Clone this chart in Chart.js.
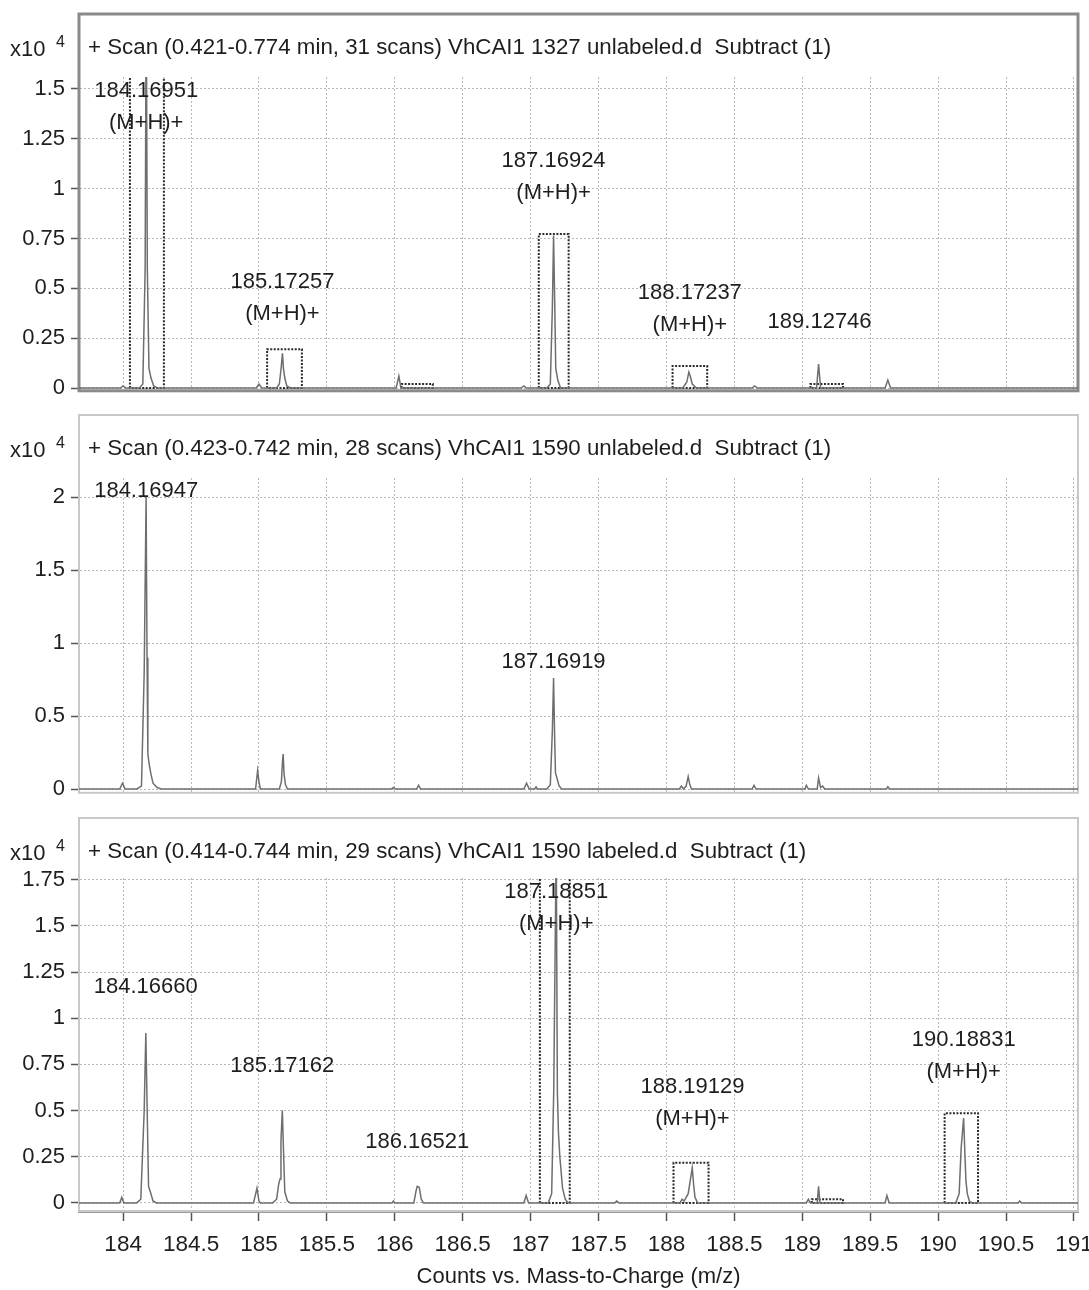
<!DOCTYPE html>
<html>
<head>
<meta charset="utf-8">
<script src="https://cdn.jsdelivr.net/npm/chart.js@4.4.1/dist/chart.umd.min.js"></script>
<style>
    html, body { margin: 0; padding: 0; background: #fff; }
    #wrap { position: relative; width: 1089px; height: 1290px; }
    .panel { position: absolute; left: 0; width: 1089px; }
</style>
</head>
<body>
<div id="wrap">
    <div class="panel" style="top:0;height:410px"><canvas id="scan1"></canvas></div>
    <div class="panel" style="top:410px;height:402px"><canvas id="scan2"></canvas></div>
    <div class="panel" style="top:812px;height:478px"><canvas id="scan3"></canvas></div>
</div>
<script>
// m/z tick labels (every 0.5)
const mzTicks = [184, 184.5, 185, 185.5, 186, 186.5, 187, 187.5, 188, 188.5, 189, 189.5, 190, 190.5, 191];

// scan 1: 1327 unlabeled (counts x10^4)
const scan1Mz = [183.675, 183.98, 184.0, 184.02, 184.12, 184.145, 184.162, 184.17, 184.178, 184.19, 184.205, 184.225, 184.25,
    184.98, 185.0, 185.02, 185.13, 185.15, 185.163, 185.173, 185.18, 185.19, 185.205, 185.23,
    186.01, 186.03, 186.045, 186.93, 186.95, 186.97,
    187.12, 187.145, 187.16, 187.169, 187.178, 187.185, 187.2, 187.22,
    188.12, 188.15, 188.165, 188.175, 188.19, 188.22, 188.63, 188.65, 188.67,
    189.105, 189.12, 189.135, 189.61, 189.63, 189.65, 191.03];
const scan1Counts = [0, 0, 0.01, 0, 0, 0.02, 0.6, 2.0, 0.6, 0.1, 0.05, 0.01, 0,
    0, 0.02, 0, 0, 0.02, 0.1, 0.174, 0.1, 0.05, 0.01, 0,
    0, 0.06, 0, 0, 0.01, 0,
    0, 0.02, 0.4, 0.765, 0.4, 0.1, 0.04, 0,
    0, 0.03, 0.08, 0.06, 0.02, 0, 0, 0.01, 0,
    0, 0.12, 0, 0, 0.04, 0, 0];
const scan1BoxFrom = [184.05, 185.06, 187.06, 188.045, 186.05, 189.06];
const scan1BoxTo = [184.30, 185.316, 187.28, 188.30, 186.28, 189.30];
const scan1BoxTop = [1.7, 0.195, 0.772, 0.11, 0.02, 0.02];
const scan1LabelMz = [184.16951, 185.17257, 187.16924, 188.17237, 189.12746];
const scan1LabelAt = [1.49, 0.533, 1.139, 0.477, 0.333];
const scan1LabelIon = [true, true, true, true, false];

// scan 2: 1590 unlabeled
const scan2Mz = [183.675, 183.975, 183.995, 184.015,
    184.1, 184.135, 184.155, 184.169, 184.176, 184.182, 184.19, 184.205, 184.22, 184.25, 184.28,
    184.975, 184.99, 185.0, 185.01,
    185.15, 185.165, 185.172, 185.178, 185.185, 185.195, 185.21,
    185.975, 185.99, 186.005, 186.16, 186.175, 186.19,
    186.95, 186.97, 186.99, 187.03, 187.04, 187.05,
    187.12, 187.145, 187.16, 187.169, 187.177, 187.183, 187.195, 187.21, 187.23,
    188.095, 188.11, 188.125, 188.145, 188.16, 188.172, 188.185,
    188.63, 188.645, 188.66,
    189.02, 189.03, 189.045, 189.11, 189.12, 189.135, 189.15, 189.165,
    189.62, 189.63, 189.645, 191.03];
const scan2Counts = [0, 0, 0.04, 0,
    0, 0.02, 0.8, 2.0, 0.9, 0.24, 0.18, 0.1, 0.04, 0.01, 0,
    0, 0.125, 0.05, 0,
    0, 0.05, 0.17, 0.24, 0.1, 0.03, 0,
    0, 0.01, 0, 0, 0.025, 0,
    0, 0.04, 0, 0, 0.015, 0,
    0, 0.03, 0.4, 0.76, 0.35, 0.11, 0.07, 0.02, 0,
    0, 0.02, 0, 0.02, 0.085, 0.03, 0,
    0, 0.025, 0,
    0, 0.025, 0, 0, 0.075, 0.01, 0.02, 0,
    0, 0.015, 0, 0];
const scan2LabelMz = [184.16947, 187.16919];
const scan2LabelAt = [2.041, 0.872];
const scan2LabelIon = [false, false];

// scan 3: 1590 labeled
const scan3Mz = [183.675, 183.975, 183.99, 184.005,
    184.1, 184.13, 184.155, 184.167, 184.177, 184.187, 184.2, 184.22, 184.245,
    184.96, 184.985, 185.0, 185.01,
    185.1, 185.13, 185.145, 185.155, 185.162, 185.172, 185.18, 185.19, 185.21, 185.23,
    185.98, 185.99, 186.0,
    186.14, 186.155, 186.165, 186.18, 186.195, 186.21,
    186.95, 186.967, 186.985,
    187.13, 187.155, 187.17, 187.1885, 187.197, 187.205, 187.215, 187.235, 187.255, 187.275,
    187.62, 187.634, 187.65,
    188.1, 188.115, 188.13, 188.16, 188.19, 188.2, 188.21, 188.23,
    189.03, 189.045, 189.06, 189.11, 189.12, 189.13,
    189.61, 189.623, 189.64,
    190.13, 190.155, 190.17, 190.188, 190.198, 190.205, 190.215, 190.23, 190.25,
    190.59, 190.6, 190.615, 191.03];
const scan3Counts = [0, 0, 0.03, 0,
    0, 0.02, 0.5, 0.92, 0.5, 0.09, 0.06, 0.01, 0,
    0, 0.08, 0.01, 0,
    0, 0.02, 0.1, 0.13, 0.34, 0.5, 0.3, 0.06, 0.01, 0,
    0, 0.01, 0,
    0, 0.06, 0.09, 0.085, 0.02, 0,
    0, 0.04, 0,
    0, 0.05, 0.6, 1.95, 0.6, 0.38, 0.25, 0.08, 0.02, 0,
    0, 0.01, 0,
    0, 0.02, 0.01, 0.05, 0.19, 0.1, 0.03, 0,
    0, 0.02, 0, 0, 0.09, 0,
    0, 0.04, 0,
    0, 0.05, 0.3, 0.46, 0.25, 0.12, 0.05, 0.01, 0,
    0, 0.01, 0, 0];
const scan3BoxFrom = [187.068, 188.052, 190.048, 189.07];
const scan3BoxTo = [187.288, 188.31, 190.294, 189.30];
const scan3BoxTop = [2.0, 0.218, 0.486, 0.02];
const scan3LabelMz = [184.1666, 185.17162, 186.16521, 187.18851, 188.19129, 190.18831];
const scan3LabelAt = [1.172, 0.742, 0.332, 1.686, 0.628, 0.883];
const scan3LabelIon = [false, false, false, true, true, true];

const SANS = "'Liberation Sans', Arial, sans-serif";

function points(xs, ys) {
    return xs.map((x, i) => ({ x: x, y: ys[i] }));
}

function boxDatasets(from, to, top) {
    return from.map((x0, i) => ({
        data: [{ x: x0, y: 0 }, { x: x0, y: top[i] }, { x: to[i], y: top[i] }, { x: to[i], y: 0 }, { x: x0, y: 0 }],
        borderColor: '#2b2b2b',
        borderWidth: 2,
        borderDash: [2, 1.5],
        pointRadius: 0,
        tension: 0
    }));
}

function decoPlugin(cfg) {
    return {
        id: 'deco',
        beforeDatasetsDraw(chart) {
            const { ctx, chartArea } = chart;
            ctx.save();
            ctx.strokeStyle = cfg.frameColor;
            ctx.lineWidth = cfg.frameWidth;
            ctx.strokeRect(chartArea.left, cfg.frameTop, chartArea.right - chartArea.left, chartArea.bottom - cfg.frameTop);
            ctx.restore();
        },
        afterDraw(chart) {
            const { ctx, scales } = chart;
            ctx.save();
            ctx.fillStyle = '#1e1e1e';
            ctx.textBaseline = 'middle';
            // multiplier and scan title
            const ty = cfg.frameTop + 34;
            ctx.font = '22px ' + SANS;
            ctx.textAlign = 'left';
            ctx.fillText('x10', 10, ty + 2);
            ctx.font = '16px ' + SANS;
            ctx.fillText('4', 56, ty - 5);
            ctx.font = '22.3px ' + SANS;
            ctx.fillText(cfg.title, 88, ty);
            // peak annotations
            ctx.font = '22px ' + SANS;
            ctx.textAlign = 'center';
            cfg.labelMz.forEach((mz, i) => {
                const x = scales.x.getPixelForValue(mz);
                const y = scales.y.getPixelForValue(cfg.labelAt[i]);
                ctx.fillText(mz.toFixed(5), x, y);
                if (cfg.labelIon[i]) {
                    ctx.fillText('(M+H)+', x, y + 32);
                }
            });
            ctx.restore();
        }
    };
}

function makePanel(id, cfg) {
    const datasets = [{
        data: points(cfg.mz, cfg.counts),
        borderColor: '#6e6e6e',
        borderWidth: 1.5,
        pointRadius: 0,
        tension: 0
    }].concat(cfg.boxes || []);

    return new Chart(document.getElementById(id), {
        type: 'line',
        data: { datasets: datasets },
        options: {
            responsive: true,
            maintainAspectRatio: false,
            animation: false,
            layout: {
                autoPadding: false,
                padding: { top: cfg.padTop, bottom: cfg.padBottom, left: 0, right: 11 }
            },
            plugins: { legend: { display: false }, tooltip: { enabled: false } },
            scales: {
                x: {
                    type: 'linear',
                    min: 183.675,
                    max: 191.03,
                    afterBuildTicks: s => { s.ticks = mzTicks.map(v => ({ value: v })); },
                    afterFit: s => {
                        s.height = cfg.xHeight;
                        s.paddingLeft = 0;
                        s.paddingRight = 0;
                    },
                    grid: {
                        color: '#b8b8b8',
                        lineWidth: 1,
                        drawTicks: cfg.showX,
                        tickLength: 10,
                        tickColor: '#555',
                        tickWidth: 1.5,
                        tickBorderDash: []
                    },
                    border: { display: cfg.showX, color: '#9a9a9a', width: 3, dash: [2, 2] },
                    ticks: {
                        display: cfg.showX,
                        maxRotation: 0,
                        autoSkip: false,
                        padding: 10,
                        color: '#1e1e1e',
                        font: { family: SANS, size: 22.5 },
                        callback: v => String(v)
                    },
                    title: {
                        display: cfg.showX,
                        text: 'Counts vs. Mass-to-Charge (m/z)',
                        color: '#1e1e1e',
                        font: { family: SANS, size: 22 },
                        padding: { top: 2, bottom: 0 }
                    }
                },
                y: {
                    min: cfg.yMin,
                    max: cfg.yMax,
                    ticks: {
                        stepSize: cfg.step,
                        includeBounds: false,
                        padding: 6,
                        color: '#1e1e1e',
                        font: { family: SANS, size: 22 },
                        callback: v => String(+v.toFixed(2))
                    },
                    afterFit: s => { s.width = 79; },
                    grid: {
                        color: '#b8b8b8',
                        lineWidth: 1,
                        tickLength: 8,
                        tickColor: '#555',
                        tickWidth: 1.5,
                        tickBorderDash: []
                    },
                    border: { color: '#5a5a5a', width: 2, dash: [2, 2] }
                }
            }
        },
        plugins: [decoPlugin(cfg)]
    });
}

makePanel('scan1', {
    mz: scan1Mz, counts: scan1Counts,
    boxes: boxDatasets(scan1BoxFrom, scan1BoxTo, scan1BoxTop),
    title: '+ Scan (0.421-0.774 min, 31 scans) VhCAI1 1327 unlabeled.d  Subtract (1)',
    labelMz: scan1LabelMz, labelAt: scan1LabelAt, labelIon: scan1LabelIon,
    frameTop: 14, frameColor: '#8a8a8a', frameWidth: 3,
    padTop: 77, padBottom: 4, xHeight: 0, showX: false,
    yMin: -0.014, yMax: 1.56, step: 0.25
});

makePanel('scan2', {
    mz: scan2Mz, counts: scan2Counts,
    title: '+ Scan (0.423-0.742 min, 28 scans) VhCAI1 1590 unlabeled.d  Subtract (1)',
    labelMz: scan2LabelMz, labelAt: scan2LabelAt, labelIon: scan2LabelIon,
    frameTop: 5, frameColor: '#c8c8c8', frameWidth: 2,
    padTop: 68, padBottom: 5, xHeight: 0, showX: false,
    yMin: -0.026, yMax: 2.131, step: 0.5
});

makePanel('scan3', {
    mz: scan3Mz, counts: scan3Counts,
    boxes: boxDatasets(scan3BoxFrom, scan3BoxTo, scan3BoxTop),
    title: '+ Scan (0.414-0.744 min, 29 scans) VhCAI1 1590 labeled.d  Subtract (1)',
    labelMz: scan3LabelMz, labelAt: scan3LabelAt, labelIon: scan3LabelIon,
    frameTop: 6, frameColor: '#c8c8c8', frameWidth: 2,
    padTop: 66, padBottom: 0, xHeight: 79, showX: true,
    yMin: -0.044, yMax: 1.76, step: 0.25
});
</script>
</body>
</html>
